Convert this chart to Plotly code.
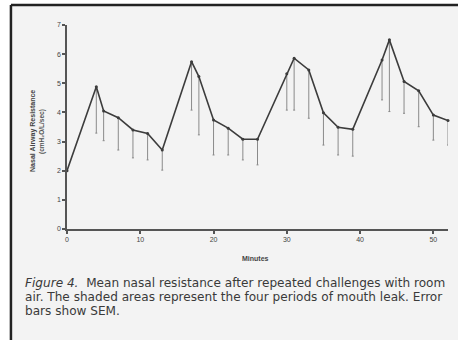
import plotly.graph_objects as go

minutes = [0, 4, 5, 7, 9, 11, 13, 17, 18, 20, 22, 24, 26, 30, 31, 33, 35, 37, 39, 43, 44, 46, 48, 50, 52]
resistance = [2.0, 4.88, 4.05, 3.82, 3.40, 3.28, 2.71, 5.74, 5.23, 3.74, 3.46, 3.08, 3.08,
              5.33, 5.86, 5.46, 3.99, 3.49, 3.42, 5.80, 6.49, 5.06, 4.74, 3.91, 3.72]
sem = [0.0, 1.59, 1.02, 1.11, 0.96, 0.91, 0.69, 1.66, 2.0, 1.20, 0.92, 0.71, 0.88,
       1.25, 1.78, 1.66, 1.11, 0.95, 0.92, 1.37, 2.46, 1.09, 1.23, 0.86, 0.84]
x_ticks = [0, 10, 20, 30, 40, 50]
y_ticks = [0, 1, 2, 3, 4, 5, 6, 7]
caption_lines = [
    "<i>Figure 4.</i>  Mean nasal resistance after repeated challenges with room",
    "air. The shaded areas represent the four periods of mouth leak. Error",
    "bars show SEM.",
]

W, H = 458, 340
L, R, T, B = 67, 447.6, 25, 229


def px(x):
    return (x - L) / (R - L)


def py(y):
    return (B - y) / (B - T)


fig = go.Figure()
fig.add_trace(go.Scatter(
    x=minutes, y=resistance, mode="lines+markers",
    line=dict(color="#3c3c3c", width=1.6),
    marker=dict(size=3, color="#3c3c3c"),
    error_y=dict(type="data", symmetric=False, array=[0] * len(sem), arrayminus=sem,
                 color="#8a8a8a", thickness=1, width=1),
    showlegend=False, cliponaxis=False,
))

shapes = [
    dict(type="rect", xref="paper", yref="paper", x0=px(11), x1=px(460), y0=py(5), y1=py(342),
         fillcolor="#f3f3f3", line=dict(width=0), layer="below"),
    dict(type="line", xref="paper", yref="paper", x0=px(11), x1=px(460), y0=py(5), y1=py(5),
         line=dict(color="#222222", width=2.5)),
    dict(type="line", xref="paper", yref="paper", x0=px(11), x1=px(11), y0=py(5), y1=py(342),
         line=dict(color="#222222", width=2.5)),
]

annotations = []
for i, line in enumerate(caption_lines):
    annotations.append(dict(
        text=line, xref="paper", yref="paper", x=px(23), y=py(283 + 14 * i),
        xanchor="left", yanchor="middle", showarrow=False, align="left",
        font=dict(family="DejaVu Sans", size=12.1, color="#3a3a3a")))

annotations += [
    dict(text="<b>Minutes</b>", xref="paper", yref="paper", x=px(255), y=py(258), xanchor="center",
         yanchor="middle", showarrow=False, font=dict(family="Liberation Sans", size=7, color="#444444")),
    dict(text="<b>Nasal Airway Resistance</b>", xref="paper", yref="paper", x=px(33), y=py(131),
         xanchor="center", yanchor="middle", textangle=-90, showarrow=False,
         font=dict(family="Liberation Sans", size=7, color="#444444")),
    dict(text="<b>(cmH₂O/L/sec)</b>", xref="paper", yref="paper", x=px(42), y=py(131),
         xanchor="center", yanchor="middle", textangle=-90, showarrow=False,
         font=dict(family="Liberation Sans", size=6.5, color="#555555")),
]

fig.update_layout(
    width=W, height=H,
    margin=dict(l=L, r=W - R, t=T, b=H - B, pad=0),
    paper_bgcolor="white", plot_bgcolor="rgba(0,0,0,0)",
    shapes=shapes, annotations=annotations,
    xaxis=dict(range=[0, 52], tickvals=x_ticks, ticktext=[str(v) for v in x_ticks],
               showgrid=False, zeroline=False, showline=True, linecolor="#555555", linewidth=1.5,
               ticks="outside", ticklen=3, tickcolor="#555555", tickwidth=1.5,
               tickfont=dict(family="Liberation Sans", size=7, color="#444444")),
    yaxis=dict(range=[0, 7], tickvals=y_ticks, ticktext=[str(v) for v in y_ticks],
               showgrid=False, zeroline=False, showline=True, linecolor="#555555", linewidth=1.5,
               ticks="outside", ticklen=3, tickcolor="#555555", tickwidth=1.5,
               tickfont=dict(family="Liberation Sans", size=7, color="#444444")),
)

fig.write_html("out.html")
